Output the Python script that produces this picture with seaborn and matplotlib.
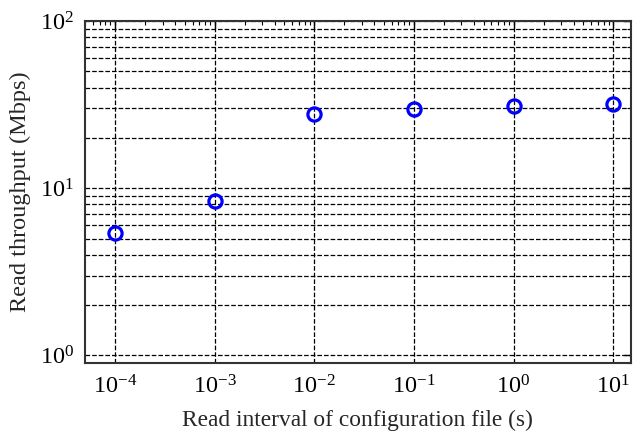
import matplotlib
matplotlib.use("Agg")
import matplotlib.pyplot as plt
import seaborn as sns
import pandas as pd
from matplotlib.ticker import LogLocator, NullFormatter

read_interval = [1e-4, 1e-3, 1e-2, 1e-1, 1e0, 1e1]
throughput = [5.42, 8.35, 27.9, 29.9, 31.2, 31.9]

sns.set_style("white")
plt.rcParams["font.family"] = ["Liberation Serif", "DejaVu Serif"]
plt.rcParams["mathtext.fontset"] = "custom"
plt.rcParams["mathtext.rm"] = "Liberation Serif"
plt.rcParams["mathtext.it"] = "Liberation Serif:italic"
plt.rcParams["mathtext.bf"] = "Liberation Serif:bold"

df = pd.DataFrame({"x": read_interval, "y": throughput})

fig = plt.figure(figsize=(6.38, 4.32), dpi=100)
ax = fig.add_axes([85 / 638, 1 - 363 / 432, (630.7 - 85) / 638, (363 - 21) / 432])

sns.lineplot(data=df, x="x", y="y", ax=ax, marker="o", linestyle="",
             markerfacecolor="none", markeredgecolor="blue", markersize=9.5,
             markeredgewidth=2.3, color="blue", zorder=5)

ax.set_xscale("log")
ax.set_yscale("log")
ax.set_xlim(5e-5, 15)
ax.set_ylim(0.9, 100)

ax.yaxis.set_minor_locator(LogLocator(base=10, subs=range(2, 10)))
ax.yaxis.set_minor_formatter(NullFormatter())
ax.xaxis.set_minor_locator(LogLocator(base=10, subs=range(2, 10)))
ax.xaxis.set_minor_formatter(NullFormatter())

ax.grid(True, which="major", axis="both", color="black", linestyle="--", linewidth=0.9)
ax.grid(True, which="minor", axis="y", color="black", linestyle="--", linewidth=0.9)
ax.set_axisbelow(True)

ax.tick_params(which="both", direction="in", top=True, right=True, labelsize=17.5, colors="black")
ax.tick_params(which="major", length=5, width=1)
ax.tick_params(which="minor", length=3, width=0.8)
ax.tick_params(axis="x", pad=9)
ax.tick_params(axis="y", pad=8)

for s in ax.spines.values():
    s.set_color("#333333")
    s.set_linewidth(1.5)

ax.set_xlabel("Read interval of configuration file (s)", fontsize=16.8, labelpad=8)
ax.set_ylabel("Read throughput (Mbps)", fontsize=17.5, labelpad=6)

fig.savefig("out.png", dpi=100)
